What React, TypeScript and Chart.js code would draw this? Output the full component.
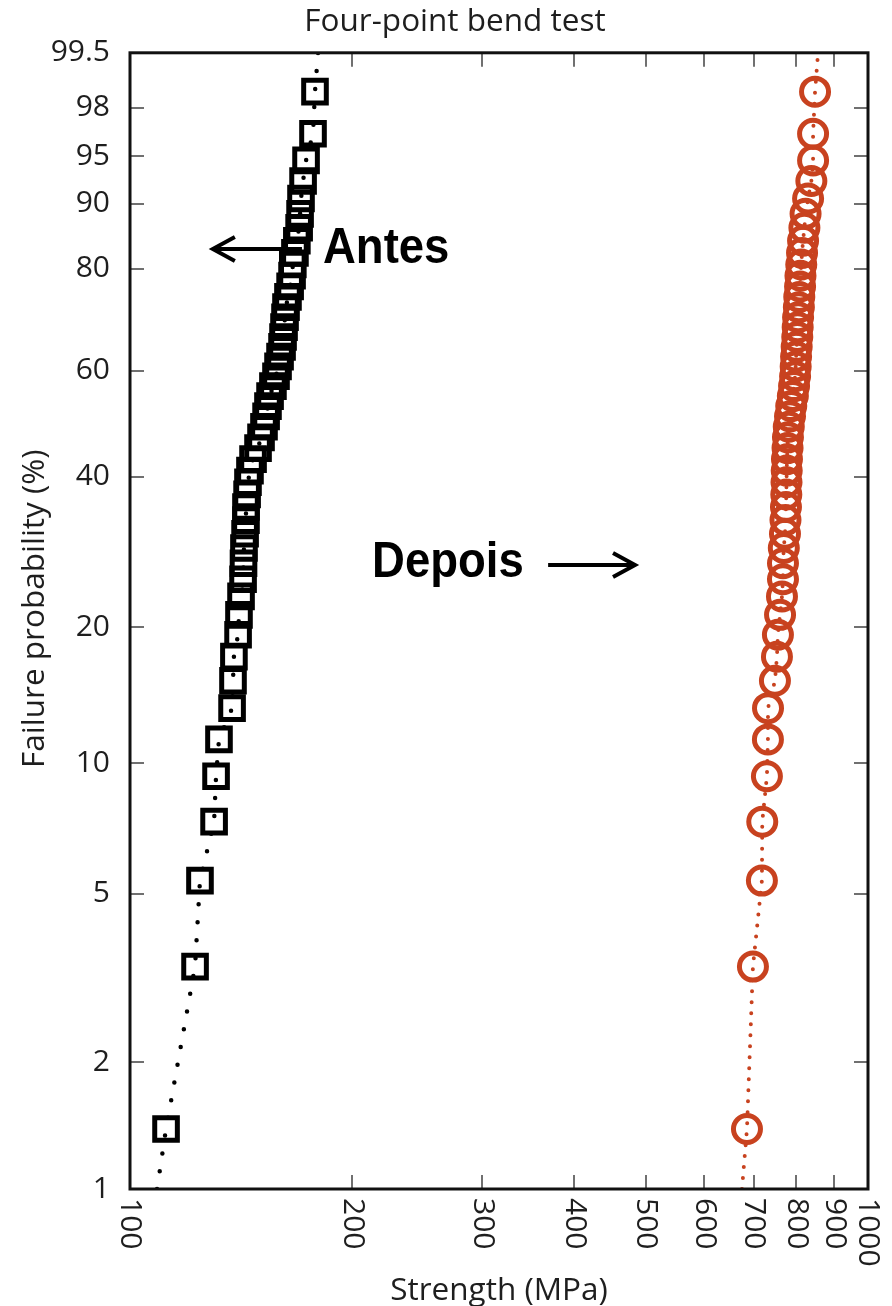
import React, { useEffect, useRef } from 'react';
import { Chart, registerables } from 'chart.js';

Chart.register(...registerables);

// Median-rank failure probabilities (%) (50 specimens per set)
const rankProbability = [
  1.39, 3.37, 5.36, 7.34, 9.33, 11.31, 13.29, 15.28, 17.26, 19.25,
  21.23, 23.21, 25.2, 27.18, 29.17, 31.15, 33.13, 35.12, 37.1, 39.09,
  41.07, 43.06, 45.04, 47.02, 49.01, 50.99, 52.98, 54.96, 56.94, 58.93,
  60.91, 62.9, 64.88, 66.87, 68.85, 70.83, 72.82, 74.8, 76.79, 78.77,
  80.75, 82.74, 84.72, 86.71, 88.69, 90.67, 92.66, 94.64, 96.63, 98.61,
];

// Strength (MPa) before treatment ("Antes")
const antesStrength = [
  111.9, 122.5, 124.4, 130.0, 130.8, 132.0, 137.5, 137.9, 138.3, 140.1,
  140.5, 141.4, 142.3, 142.5, 142.7, 143.2, 143.6, 143.6, 144.1, 144.5,
  145.4, 146.8, 149.1, 150.5, 151.9, 152.9, 153.8, 154.8, 156.2, 157.7,
  158.7, 159.7, 160.7, 161.2, 161.7, 162.2, 162.7, 163.7, 164.8, 165.8,
  166.2, 167.3, 168.3, 169.5, 170.0, 170.5, 171.6, 173.2, 177.0, 178.1,
];

// Strength (MPa) after treatment ("Depois")
const depoisStrength = [
  685.5, 698.4, 718.2, 719.0, 729.5, 731.8, 732.0, 748.0, 752.7, 755.0,
  760.0, 764.6, 767.0, 767.0, 769.0, 771.8, 773.0, 774.2, 775.0, 775.5,
  776.0, 776.6, 778.0, 779.0, 781.0, 784.0, 787.0, 791.0, 794.0, 796.5,
  798.0, 799.0, 800.5, 802.0, 803.0, 804.0, 806.0, 807.0, 809.0, 810.0,
  812.0, 814.0, 816.6, 820.0, 823.0, 829.5, 838.0, 842.5, 842.5, 847.7,
];

// Where the dotted guide lines meet the bottom (1 %) and top (99.5 %) of the plot
const lineEndProbabilities = [1, 99.5];
const antesLineEnds = [108.8, 179.8];
const depoisLineEnds = [674.9, 855.7];

const xTickValues = [100, 200, 300, 400, 500, 600, 700, 800, 900, 1000];
const xTickLabels = ['100', '200', '300', '400', '500', '600', '700', '800', '900', '1000'];
const yTickPercents = [1, 2, 5, 10, 20, 40, 60, 80, 90, 95, 98, 99.5];
const yTickLabels = ['1', '2', '5', '10', '20', '40', '60', '80', '90', '95', '98', '99.5'];

// Annotation anchors in data units (strength MPa, probability %)
const textNotes = [
  { text: 'Antes', x: 182.6, p: 81.0 },
  { text: 'Depois', x: 212.8, p: 25.5 },
];
const arrowNotes = [
  { fromX: 171.0, toX: 129.5, p: 83.4 },
  { fromX: 368.6, toX: 483.4, p: 26.95 },
];

const FONT = '"Open Sans", "DejaVu Sans", sans-serif';
const TEXT_COLOR = '#1e1e1e';
const RED = '#c8421f';

const weib = (p: number) => Math.log(-Math.log(1 - p / 100));

export default function App() {
  const ref = useRef<HTMLCanvasElement>(null);

  useEffect(() => {
    const canvas = ref.current;
    if (!canvas) return;

    const toPts = (xs: number[]) => xs.map((x, i) => ({ x, y: weib(rankProbability[i]) }));
    const antesPts = toPts(antesStrength);
    const depoisPts = toPts(depoisStrength);
    const withEnds = (pts: { x: number; y: number }[], ends: number[]) => [
      { x: ends[0], y: weib(lineEndProbabilities[0]) },
      ...pts,
      { x: ends[1], y: weib(lineEndProbabilities[1]) },
    ];

    const decorPlugin = {
      id: 'decor',
      afterDraw(chart: any) {
        const { ctx, chartArea } = chart;
        const xs = chart.scales.x;
        const ys = chart.scales.y;
        const { left, right, top, bottom } = chartArea;
        ctx.save();

        // inward tick marks on all four sides
        ctx.strokeStyle = '#707070';
        ctx.lineWidth = 2;
        const tl = 14;
        ctx.beginPath();
        xTickValues.forEach((v) => {
          const px = Math.round(xs.getPixelForValue(v));
          ctx.moveTo(px, bottom);
          ctx.lineTo(px, bottom - tl);
          ctx.moveTo(px, top);
          ctx.lineTo(px, top + tl);
        });
        yTickPercents.forEach((p) => {
          const py = Math.round(ys.getPixelForValue(weib(p)));
          ctx.moveTo(left, py);
          ctx.lineTo(left + tl, py);
          ctx.moveTo(right, py);
          ctx.lineTo(right - tl, py);
        });
        ctx.stroke();

        // frame
        ctx.strokeStyle = '#111111';
        ctx.lineWidth = 3;
        ctx.strokeRect(left, top, right - left, bottom - top);

        // x tick labels, rotated clockwise
        ctx.fillStyle = TEXT_COLOR;
        ctx.font = `30px ${FONT}`;
        ctx.textAlign = 'left';
        ctx.textBaseline = 'middle';
        xTickValues.forEach((v, i) => {
          const px = xs.getPixelForValue(v);
          ctx.save();
          ctx.translate(px, bottom + 9);
          ctx.rotate(Math.PI / 2);
          ctx.fillText(xTickLabels[i], 0, 0);
          ctx.restore();
        });

        // annotations
        ctx.fillStyle = '#000000';
        ctx.font = `bold 45.5px Arial, "Liberation Sans", sans-serif`;
        ctx.textBaseline = 'alphabetic';
        textNotes.forEach((n) => {
          const px = xs.getPixelForValue(n.x);
          const py = ys.getPixelForValue(weib(n.p));
          ctx.save();
          ctx.translate(px, py);
          ctx.scale(1, 1.08);
          ctx.fillText(n.text, 0, 0);
          ctx.restore();
        });
        ctx.strokeStyle = '#000000';
        ctx.lineWidth = 4;
        ctx.lineJoin = 'miter';
        arrowNotes.forEach((a) => {
          const x1 = xs.getPixelForValue(a.fromX);
          const x2 = xs.getPixelForValue(a.toX);
          const py = ys.getPixelForValue(weib(a.p));
          const dir = x2 > x1 ? 1 : -1;
          ctx.beginPath();
          ctx.moveTo(x1, py);
          ctx.lineTo(x2 - dir * 2, py);
          ctx.stroke();
          ctx.beginPath();
          ctx.moveTo(x2 - dir * 22, py - 12);
          ctx.lineTo(x2, py);
          ctx.lineTo(x2 - dir * 22, py + 12);
          ctx.stroke();
        });
        ctx.restore();
      },
    };

    const chart = new Chart(canvas, {
      type: 'scatter',
      data: {
        datasets: [
          {
            label: 'Antes',
            data: antesPts,
            showLine: false,
            pointStyle: 'rect',
            pointRadius: 16,
            pointBorderWidth: 5,
            borderColor: '#000000',
            backgroundColor: 'rgba(0,0,0,0)',
          },
          {
            label: 'Depois',
            data: depoisPts,
            showLine: false,
            pointStyle: 'circle',
            pointRadius: 13.5,
            pointBorderWidth: 5,
            borderColor: RED,
            backgroundColor: 'rgba(0,0,0,0)',
          },
          {
            label: 'Antes line',
            data: withEnds(antesPts, antesLineEnds),
            showLine: true,
            pointRadius: 0,
            borderColor: '#000000',
            borderWidth: 4.5,
            borderDash: [0, 18],
            borderCapStyle: 'round',
            tension: 0,
          },
          {
            label: 'Depois line',
            data: withEnds(depoisPts, depoisLineEnds),
            showLine: true,
            pointRadius: 0,
            borderColor: RED,
            borderWidth: 4,
            borderDash: [0, 11],
            borderCapStyle: 'round',
            tension: 0,
          },
        ],
      } as any,
      options: {
        animation: false,
        responsive: false,
        devicePixelRatio: 1,
        layout: { padding: { left: 42, right: 24, top: 0, bottom: 0 } },
        plugins: {
          legend: { display: false },
          tooltip: { enabled: false },
          title: {
            display: true,
            text: 'Four-point bend test',
            color: TEXT_COLOR,
            font: { family: FONT, size: 31.5, weight: 'normal' },
            padding: { top: 3, bottom: 12 },
          },
        },
        scales: {
          x: {
            type: 'logarithmic',
            position: 'bottom',
            min: 100,
            max: 1000,
            afterBuildTicks: (s: any) => {
              s.ticks = xTickValues.map((v) => ({ value: v }));
            },
            afterFit: (s: any) => {
              s.height = 117;
            },
            ticks: { display: false },
            grid: { display: false, drawTicks: false },
            border: { display: false },
            title: {
              display: true,
              text: 'Strength (MPa)',
              color: TEXT_COLOR,
              font: { family: FONT, size: 31.5, weight: 'normal' },
              padding: { top: 0, bottom: -4 },
            },
          },
          y: {
            type: 'linear',
            min: weib(1),
            max: weib(99.5),
            afterBuildTicks: (s: any) => {
              s.ticks = yTickPercents.map((p) => ({ value: weib(p) }));
            },
            afterFit: (s: any) => {
              s.width = 88;
            },
            ticks: {
              autoSkip: false,
              padding: 20,
              color: TEXT_COLOR,
              font: { family: FONT, size: 30 },
              callback: (_v: any, i: number) => yTickLabels[i],
            },
            grid: { display: false, drawTicks: false },
            border: { display: false },
            title: {
              display: true,
              text: '   Failure probability (%)',
              color: TEXT_COLOR,
              font: { family: FONT, size: 31.5, weight: 'normal' },
              padding: { top: -26, bottom: 0 },
            },
          },
        },
      } as any,
      plugins: [decorPlugin],
    });

    return () => chart.destroy();
  }, []);

  return (
    <div style={{ position: 'absolute', left: 0, top: 0, width: 892, height: 1306, background: '#ffffff' }}>
      <canvas ref={ref} width={892} height={1306} style={{ display: 'block', width: 892, height: 1306 }} />
    </div>
  );
}
